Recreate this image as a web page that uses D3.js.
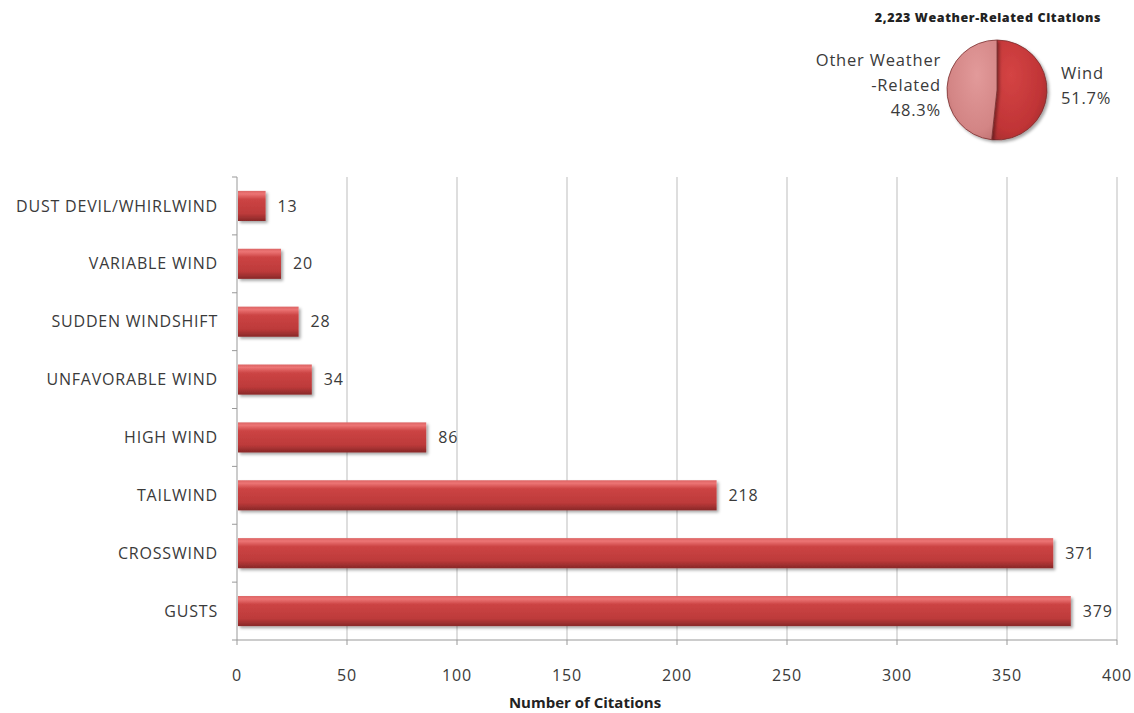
<!DOCTYPE html>
<html><head><meta charset="utf-8">
<script src="https://cdn.jsdelivr.net/npm/d3@7"></script>
<style>
body{margin:0;background:#fff;}
text{font-family:"Open Sans","Noto Sans",sans-serif;fill:#3a3a3a;}
</style></head>
<body><svg id="c" width="1134" height="713"></svg>
<script>
const categories = ["DUST DEVIL/WHIRLWIND","VARIABLE WIND","SUDDEN WINDSHIFT","UNFAVORABLE WIND","HIGH WIND","TAILWIND","CROSSWIND","GUSTS"];
const values = [13,20,28,34,86,218,371,379];
const xTicks = [0,50,100,150,200,250,300,350,400];
const pieLabels = ["Wind","Other Weather-Related"];
const pieValues = [51.7,48.3];
const pieTitle = "2,223 Weather-Related Citations";
const xTitle = "Number of Citations";

const svg = d3.select("#c");
const defs = svg.append("defs");
const g1 = defs.append("linearGradient").attr("id","bar").attr("x1",0).attr("y1",0).attr("x2",0).attr("y2",1);
[[0,"#dc6464"],[0.1,"#ec7474"],[0.28,"#cc4444"],[0.75,"#bd3a3a"],[1,"#882828"]].forEach(([o,c])=>g1.append("stop").attr("offset",o).attr("stop-color",c));
const pg1 = defs.append("radialGradient").attr("id","pw").attr("cx","0.35").attr("cy","0.35").attr("r","0.8");
[[0,"#d44444"],[0.7,"#c03436"],[1,"#9a2a2c"]].forEach(([o,c])=>pg1.append("stop").attr("offset",o).attr("stop-color",c));
const pg2 = defs.append("radialGradient").attr("id","po").attr("cx","0.6").attr("cy","0.35").attr("r","0.8");
[[0,"#e29a9a"],[0.7,"#d38585"],[1,"#b86a6a"]].forEach(([o,c])=>pg2.append("stop").attr("offset",o).attr("stop-color",c));
const sh = defs.append("filter").attr("id","sh").attr("x","-10%").attr("y","-30%").attr("width","130%").attr("height","180%");
sh.append("feDropShadow").attr("dx",2).attr("dy",2).attr("stdDeviation",1.5).attr("flood-color","#000").attr("flood-opacity",0.35);

const x = d3.scaleLinear().domain([0,400]).range([237,1117]);
const y = d3.scaleBand().domain(categories).range([177,640]).paddingInner(0.48).paddingOuter(0.24);

// gridlines
svg.append("g").selectAll("line").data(xTicks.filter(d=>d>0)).join("line")
  .attr("x1",d=>x(d)).attr("x2",d=>x(d)).attr("y1",177).attr("y2",640)
  .attr("stroke","#bdbdbd").attr("stroke-width",1);

// y axis line and ticks
const bandStep = (640-177)/categories.length;
svg.append("line").attr("x1",237).attr("x2",237).attr("y1",177).attr("y2",640).attr("stroke","#999");
svg.append("g").selectAll("line").data(d3.range(categories.length+1)).join("line")
  .attr("x1",232).attr("x2",237).attr("y1",i=>177+i*bandStep).attr("y2",i=>177+i*bandStep).attr("stroke","#999");
// x axis
svg.append("line").attr("x1",237).attr("x2",1117).attr("y1",640).attr("y2",640).attr("stroke","#999");
svg.append("g").selectAll("line").data(xTicks).join("line")
  .attr("x1",d=>x(d)).attr("x2",d=>x(d)).attr("y1",640).attr("y2",645).attr("stroke","#999");
svg.append("g").selectAll("text").data(xTicks).join("text")
  .attr("x",d=>x(d)).attr("y",681).attr("text-anchor","middle").style("font-size","16px").style("letter-spacing","0.8px").text(d=>d);

// bars
svg.append("g").selectAll("rect").data(values).join("rect")
  .attr("x",x(0)+1).attr("y",(d,i)=>y(categories[i])).attr("width",d=>x(d)-x(0)-1).attr("height",y.bandwidth())
  .attr("fill","url(#bar)").attr("filter","url(#sh)");
// category labels
svg.append("g").selectAll("text").data(categories).join("text")
  .attr("x",218).attr("y",d=>y(d)+y.bandwidth()/2).attr("dy","0.35em").attr("text-anchor","end")
  .style("font-size","16px").style("letter-spacing","0.8px").text(d=>d);
// value labels
svg.append("g").selectAll("text").data(values).join("text")
  .attr("x",d=>x(d)+12).attr("y",(d,i)=>y(categories[i])+y.bandwidth()/2).attr("dy","0.35em")
  .style("font-size","16px").style("letter-spacing","0.8px").text(d=>d);

svg.append("text").attr("x",585).attr("y",708).attr("text-anchor","middle")
  .style("font-size","15px").style("font-weight","bold").style("fill","#222").text(xTitle);

// pie
const pie = d3.pie().sort(null)(pieValues);
const arc = d3.arc().innerRadius(0).outerRadius(50);
const pg = svg.append("g").attr("transform","translate(997,90)");
pg.selectAll("path").data(pie).join("path").attr("d",arc)
  .attr("fill",(d,i)=>i===0?"url(#pw)":"url(#po)").attr("stroke","#7a3030").attr("stroke-width",0.8)
  .attr("filter","url(#sh)");
svg.append("text").attr("x",988).attr("y",22).attr("text-anchor","middle")
  .style("font-size","12.5px").style("font-weight","800").style("letter-spacing","0.6px").style("fill","#222").text(pieTitle);
const ol = svg.append("text").attr("text-anchor","end").style("font-size","16.5px").style("letter-spacing","0.8px");
[["Other Weather",66],["-Related",91],[pieValues[1].toFixed(1)+"%",116]].forEach(([t,yy])=>ol.append("tspan").attr("x",941).attr("y",yy).text(t));
const wl = svg.append("text").attr("text-anchor","start").style("font-size","16.5px").style("letter-spacing","0.8px");
[[pieLabels[0],79],[pieValues[0].toFixed(1)+"%",104]].forEach(([t,yy])=>wl.append("tspan").attr("x",1061).attr("y",yy).text(t));
</script></body></html>
